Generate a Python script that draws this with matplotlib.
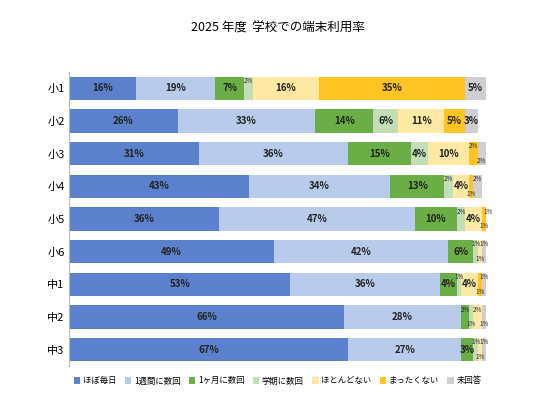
import matplotlib.pyplot as plt
import numpy as np

plt.rcParams['font.family'] = ['Noto Sans CJK JP', 'DejaVu Sans']

grades = ["小1", "小2", "小3", "小4", "小5", "小6", "中1", "中2", "中3"]
series = ["ほぼ毎日", "1週間に数回", "1ヶ月に数回", "学期に数回", "ほとんどない", "まったくない", "未回答"]
colors = ["#5B80CC", "#B9CBEA", "#6AAE45", "#C3DEB4", "#FFE8A3", "#FFC322", "#CFCFCF"]
values = np.array([
    [16, 19, 7, 2, 16, 35, 5],
    [26, 33, 14, 6, 11, 5, 3],
    [31, 36, 15, 4, 10, 2, 2],
    [43, 34, 13, 2, 4, 1, 2],
    [36, 47, 10, 2, 4, 1, 1],
    [49, 42, 6, 1, 1, 0, 1],
    [53, 36, 4, 1, 4, 1, 1],
    [66, 28, 2, 1, 2, 0, 1],
    [67, 27, 3, 1, 1, 0, 1],
])

fig = plt.figure(figsize=(5.34, 4.0), dpi=100)
ax = fig.add_axes([0.13, 0.085, 0.78, 0.735])
y = np.arange(len(grades))
left = np.zeros(len(grades))
small_count = np.zeros(len(grades), dtype=int)
for j, name in enumerate(series):
    v = values[:, j]
    ax.barh(y, v, left=left, height=0.72, color=colors[j], label=name, edgecolor="none")
    for i in range(len(grades)):
        if v[i] <= 0:
            continue
        big = v[i] >= 3
        cx = left[i] + v[i] / 2
        cy = y[i]
        if not big:
            # stagger tiny labels up/down so they don't collide
            cy += -0.22 if small_count[i] % 2 == 0 else 0.22
            small_count[i] += 1
        ax.text(cx, cy, f"{v[i]}%", ha="center", va="center",
                fontsize=7 if big else 4.5, fontweight="bold" if big else "normal",
                color="#222222")
    left += v

ax.set_yticks(y)
ax.set_yticklabels(grades, fontsize=8)
ax.set_xlim(0, 100)
ax.set_ylim(len(grades) - 0.5, -0.5)
ax.set_xticks([])
ax.tick_params(axis="y", length=0)
for s in ["top", "right", "bottom"]:
    ax.spines[s].set_visible(False)
ax.spines["left"].set_color("#BBBBBB")

fig.text(0.52, 0.92, "2025 年度  学校での端末利用率", ha="center", fontsize=9)
ax.legend(loc="upper center", bbox_to_anchor=(0.5, -0.01), ncol=7, frameon=False,
          fontsize=6, handlelength=0.8, handleheight=0.8, columnspacing=1.0, handletextpad=0.3)

fig.savefig("out.png", dpi=100)
